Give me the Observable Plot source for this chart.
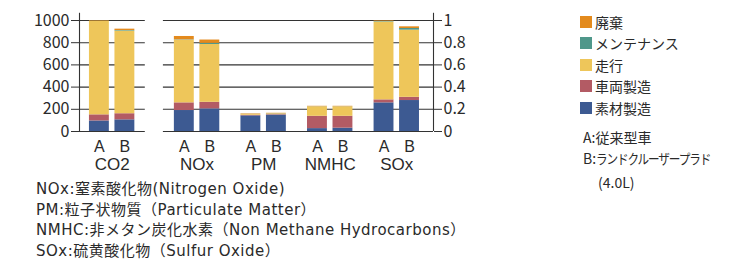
<!DOCTYPE html>
<html><head><meta charset="utf-8">
<script src="https://cdn.jsdelivr.net/npm/d3@7"></script>
<script src="https://cdn.jsdelivr.net/npm/@observablehq/plot@0.6"></script>
<style>
html,body{margin:0;padding:0;background:#fff;}
#wrap{position:relative;width:744px;height:267px;overflow:hidden;font-family:"Noto Sans CJK JP","Noto Sans",sans-serif;color:#2a2a2a;}
#chart{position:absolute;left:0;top:0;}
.leg{position:absolute;left:580px;font-size:14px;line-height:20px;}
.leg .row{display:flex;align-items:center;height:21.5px;}
.leg .sw{width:12px;height:12px;margin-right:3px;}
.note{position:absolute;font-size:14px;line-height:21px;white-space:nowrap;}
.tight{display:inline-block;font-size:13.5px;letter-spacing:-1.3px;transform:scaleX(0.86);transform-origin:left center;}
#foot{font-family:"DejaVu Sans","Noto Sans CJK JP",sans-serif;font-size:15px;line-height:20.5px;letter-spacing:0.5px;}
</style></head>
<body><div id="wrap"><div id="chart"></div>
<div class="leg" id="leg" style="top:11px"></div>
<div class="note" id="vnote" style="left:583px;top:127px"></div>
<div class="note" id="foot" style="left:36px;top:179px"></div>
</div>
<script>
// categories (pollutants) and vehicles
const categories = ["CO2", "NOx", "PM", "NMHC", "SOx"];
const vehicles = ["A", "B"];
// life-cycle stages, bottom to top of each stack
const stages = ["素材製造", "車両製造", "走行", "メンテナンス", "廃棄"];
const stageColors = ["#3d5a92", "#b35b64", "#eec65a", "#4f978a", "#e38a1d"];
// values per bar: CO2 A, CO2 B, NOx A, NOx B, PM A, PM B, NMHC A, NMHC B, SOx A, SOx B
// (CO2 in left-axis units 0–1000, others relative on the right axis 0–1)
const sozai  = [95, 105, 0.189, 0.204, 0.141, 0.148, 0.026, 0.030, 0.258, 0.279];
const sharyo = [55, 55,  0.069, 0.059, 0.005, 0.004, 0.111, 0.107, 0.027, 0.029];
const soko   = [842, 745, 0.565, 0.521, 0.008, 0.006, 0.085, 0.085, 0.702, 0.605];
const maint  = [3, 5,    0.003, 0.010, 0.001, 0.002, 0.001, 0.001, 0.005, 0.015];
const haiki  = [5, 12,   0.030, 0.030, 0.004, 0.004, 0.004, 0.004, 0.005, 0.015];
// axis ticks
const leftTicks = [0, 200, 400, 600, 800, 1000];
const rightTicks = [0, 0.2, 0.4, 0.6, 0.8, 1];
const vehicleNotes = ["A:従来型車", "B:ランドクルーザープラド", "(4.0L)"];
const footnotes = [
  "NOx:窒素酸化物(Nitrogen Oxide)",
  "PM:粒子状物質（Particulate Matter）",
  "NMHC:非メタン炭化水素（Non Methane Hydrocarbons）",
  "SOx:硫黄酸化物（Sulfur Oxide）"
];

const CO2_MAX = leftTicks[leftTicks.length - 1]; // left axis maximum maps onto right-axis 1
const series = [sozai, sharyo, soko, maint, haiki];

// layout (in bar-pitch units)
const barW = 0.78;
const groupStart = gi => gi === 0 ? 0 : 3.33 + (gi - 1) * 2.61;
const xMin = -0.39, xMax = 13.49;

const rects = [];
const bars = [];
categories.forEach((cat, gi) => {
  vehicles.forEach((v, vi) => {
    const i = gi * 2 + vi;
    const k = gi === 0 ? CO2_MAX : 1;
    const x1 = groupStart(gi) + vi;
    let acc = 0;
    series.forEach((s, si) => {
      const val = s[i] / k;
      rects.push({cat, v, stage: stages[si], x1, x2: x1 + barW, y1: acc, y2: acc + val});
      acc += val;
    });
    bars.push({cat, v, xc: x1 + barW / 2});
  });
});
const groups = categories.map((cat, gi) => ({cat, xc: groupStart(gi) + (1 + barW) / 2}));
const gridSegments = [];
rightTicks.forEach(t => {
  gridSegments.push({y: t, x1: xMin, x2: groupStart(0) + 1 + barW + 0.41});
  gridSegments.push({y: t, x1: groupStart(1) - 0.43, x2: xMax});
});

const labelFont = '"Liberation Sans",Arial,sans-serif';
const plot = Plot.plot({
  width: 744, height: 175,
  marginLeft: 79, marginRight: 311, marginTop: 20, marginBottom: 44,
  style: {fontFamily: '"Noto Sans CJK JP","Noto Sans",sans-serif', color: "#2a2a2a", background: "transparent"},
  x: {domain: [xMin, xMax], axis: null},
  y: {domain: [0, 1], axis: null},
  color: {domain: stages, range: stageColors},
  marks: [
    Plot.ruleY(gridSegments, {y: "y", x1: "x1", x2: "x2", stroke: "#333", strokeWidth: 1.1}),
    Plot.rect(rects, {x1: "x1", x2: "x2", y1: "y1", y2: "y2", fill: "stage"}),
    Plot.ruleX([xMin, xMax], {y1: 0, y2: 1.065, stroke: "#333", strokeWidth: 1.1}),
    Plot.axisY(rightTicks, {anchor: "left", tickSize: 8, tickPadding: 2, fontSize: 16,
      tickFormat: (d, i) => String(leftTicks[i]), stroke: "#333"}),
    Plot.axisY(rightTicks, {anchor: "right", tickSize: 8, tickPadding: 2, fontSize: 16,
      tickFormat: d => String(d), stroke: "#333"}),
    Plot.text(bars, {x: "xc", y: 0, text: "v", dy: 15.5, fontSize: 16, fontFamily: labelFont, fill: "#2a2a2a"}),
    Plot.text(groups, {x: "xc", y: 0, text: "cat", dy: 33.5, fontSize: 17, fontFamily: labelFont, fill: "#2a2a2a"})
  ]
});
document.getElementById("chart").appendChild(plot);

const leg = document.getElementById("leg");
stages.slice().reverse().forEach((s, i) => {
  const c = stageColors[stages.length - 1 - i];
  const row = document.createElement("div");
  row.className = "row";
  row.innerHTML = `<span class="sw" style="background:${c}"></span><span>${s}</span>`;
  leg.appendChild(row);
});
document.getElementById("vnote").innerHTML =
  `<div>${vehicleNotes[0]}</div>` +
  `<div>B:<span class="tight">${vehicleNotes[1].slice(2)}</span></div>` +
  `<div style="padding-left:15px;margin-top:3px">${vehicleNotes[2]}</div>`;
document.getElementById("foot").innerHTML = footnotes.join("<br>");
</script></body></html>
